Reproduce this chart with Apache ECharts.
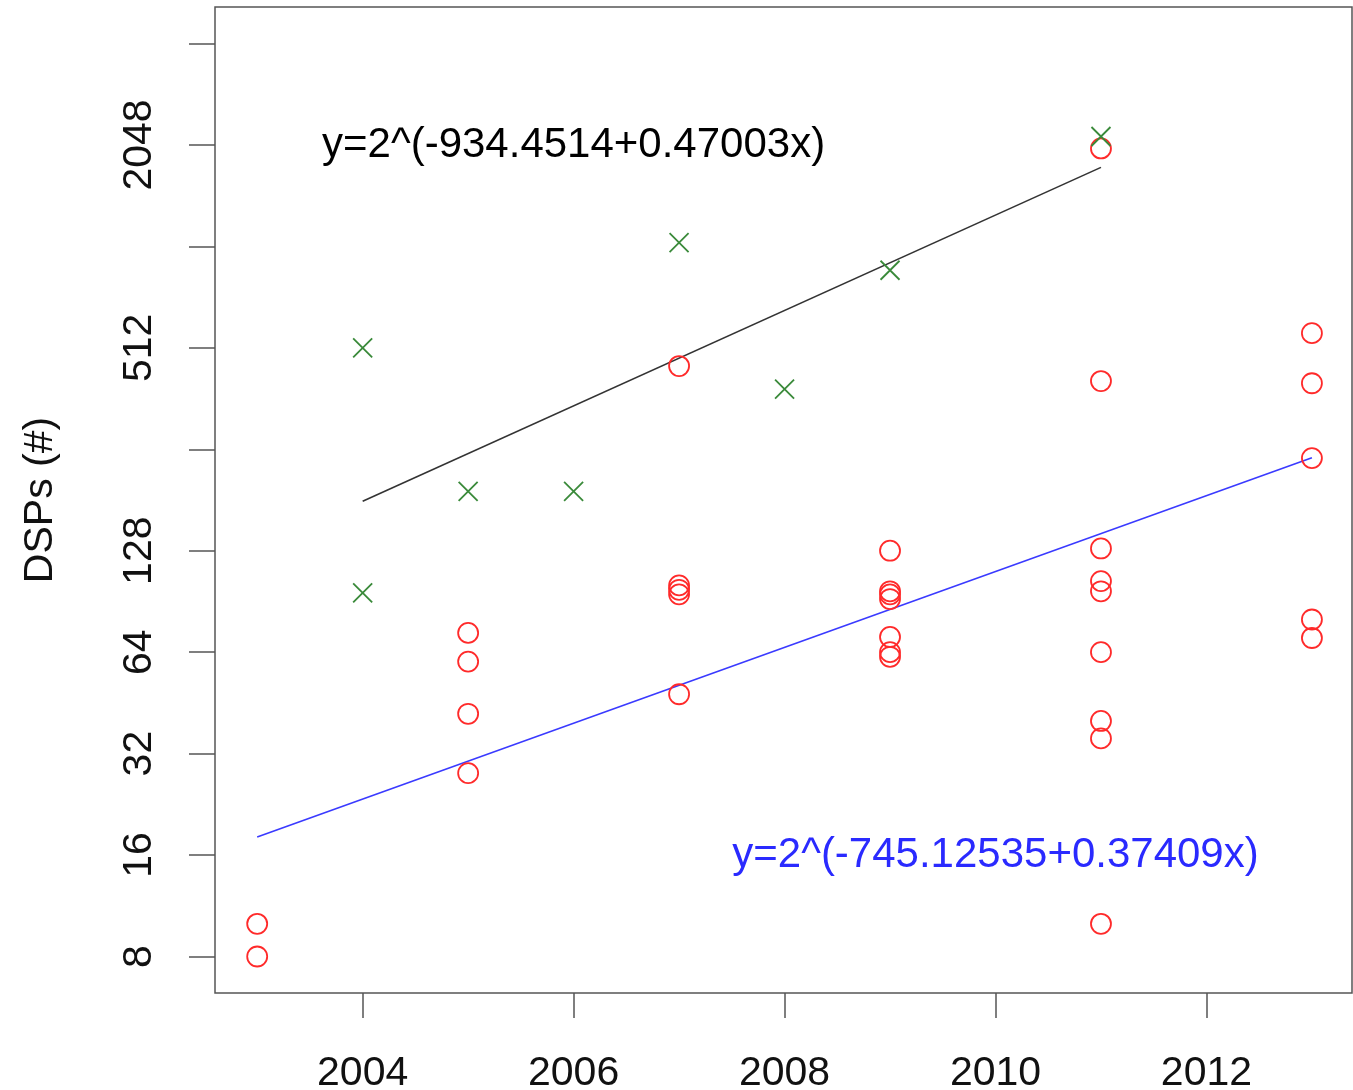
<!DOCTYPE html>
<html>
<head>
<meta charset="utf-8">
<script src="https://cdn.jsdelivr.net/npm/echarts@6/dist/echarts.min.js"></script>
<style>
html,body{margin:0;padding:0;background:#fff;}
#chart{width:1353px;height:1090px;}
</style>
</head>
<body>
<div id="chart"></div>
<script>
// ---- data (DSP counts, raw values) ----
const crossYears = [2004, 2004, 2005, 2006, 2007, 2008, 2009, 2011];
const crossDSPs  = [512, 96, 192, 192, 1050, 386, 870, 2170];

const circleYears = [2003, 2003,
  2005, 2005, 2005, 2005,
  2007, 2007, 2007, 2007, 2007,
  2009, 2009, 2009, 2009, 2009, 2009, 2009,
  2011, 2011, 2011, 2011, 2011, 2011, 2011, 2011, 2011,
  2013, 2013, 2013, 2013, 2013];
const circleDSPs = [10, 8,
  73, 60, 42, 28,
  452, 101, 98, 95, 48,
  128, 97, 95, 92, 71, 64, 62,
  2000, 408, 130, 104, 97, 64, 40, 35.5, 10,
  566, 402, 241, 80, 70.5];

const fitBlackYears = [2004, 2011];
const fitBlackDSPs  = [179.6, 1757];
const fitBlueYears  = [2003, 2013];
const fitBlueDSPs   = [18.09, 241.8];

const xTicks = [2004, 2006, 2008, 2010, 2012];
const yTickDSPs = [8, 16, 32, 64, 128, 256, 512, 1024, 2048, 4096];
const yLabelDSPs = [8, 16, 32, 64, 128, 512, 2048];

const eqBlack = {text: 'y=2^(-934.4514+0.47003x)', year: 2006, dsp: 2048};
const eqBlue  = {text: 'y=2^(-745.12535+0.37409x)', year: 2010, dsp: 16};

// ---- build ----
const L = v => Math.log2(v);
const pairs = (xs, ys) => xs.map((x, i) => [x, L(ys[i])]);
const FONT = '"Liberation Sans", Arial, Helvetica, sans-serif';

const chart = echarts.init(document.getElementById('chart'), null, {renderer: 'canvas'});
chart.setOption({
  animation: false,
  backgroundColor: '#fff',
  grid: {left: 215, top: 7, width: 1137, height: 986, show: true, containLabel: false,
         outerBoundsMode: 'none',
         borderColor: '#555', borderWidth: 1.5, backgroundColor: 'transparent'},
  xAxis: {
    type: 'value', min: 2002.6, max: 2013.38,
    axisLine: {show: false},
    splitLine: {show: false},
    axisTick: {show: true, length: 25, inside: false, customValues: xTicks,
               lineStyle: {color: '#555', width: 1.5}},
    axisLabel: {show: true, customValues: xTicks, margin: 60,
                fontSize: 41, fontFamily: FONT, color: '#111',
                formatter: v => String(Math.round(v))}
  },
  yAxis: {
    type: 'value', min: 2.64, max: 12.36,
    name: 'DSPs (#)', nameLocation: 'middle', nameGap: 154, nameRotate: 90,
    nameTextStyle: {fontSize: 41, fontFamily: FONT, color: '#111'},
    axisLine: {show: false},
    splitLine: {show: false},
    axisTick: {show: true, length: 26, inside: false, customValues: yTickDSPs.map(L),
               lineStyle: {color: '#555', width: 1.5}},
    axisLabel: {show: true, customValues: yLabelDSPs.map(L), rotate: 90, margin: 55,
                fontSize: 41, fontFamily: FONT, color: '#111',
                formatter: v => String(Math.round(Math.pow(2, v)))}
  },
  series: [
    {type: 'line', data: pairs(fitBlackYears, fitBlackDSPs), showSymbol: false, symbol: 'none',
     lineStyle: {color: '#333', width: 1.6}, silent: true, z: 2},
    {type: 'line', data: pairs(fitBlueYears, fitBlueDSPs), showSymbol: false, symbol: 'none',
     lineStyle: {color: '#3a3aff', width: 1.6}, silent: true, z: 2},
    {type: 'scatter', data: pairs(circleYears, circleDSPs), symbol: 'circle', symbolSize: 20,
     itemStyle: {color: 'rgba(0,0,0,0)', borderColor: '#ff2a2a', borderWidth: 1.8, opacity: 1}, z: 3},
    {type: 'scatter', data: pairs(crossYears, crossDSPs), symbol: 'path://M0,0L10,10M10,0L0,10',
     symbolSize: 19,
     itemStyle: {color: 'none', borderColor: '#3a8a3a', borderWidth: 1.8, opacity: 1}, z: 4},
    {type: 'scatter', data: [[eqBlack.year, L(eqBlack.dsp)]], symbolSize: 1,
     itemStyle: {color: 'rgba(0,0,0,0)', opacity: 1}, silent: true, z: 5,
     label: {show: true, position: 'inside', formatter: eqBlack.text,
             fontSize: 42, fontFamily: FONT, color: '#000', textBorderWidth: 0}},
    {type: 'scatter', data: [[eqBlue.year, L(eqBlue.dsp)]], symbolSize: 1,
     itemStyle: {color: 'rgba(0,0,0,0)', opacity: 1}, silent: true, z: 5,
     label: {show: true, position: 'inside', formatter: eqBlue.text,
             fontSize: 42, fontFamily: FONT, color: '#2a2aff', textBorderWidth: 0}}
  ]
});
</script>
</body>
</html>
